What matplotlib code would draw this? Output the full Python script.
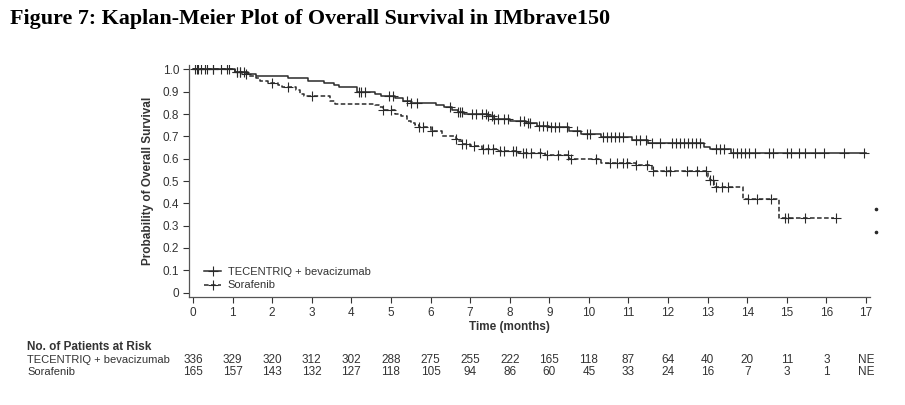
import numpy as np
import matplotlib
matplotlib.use('Agg')
import matplotlib.pyplot as plt
from matplotlib.lines import Line2D

plt.rcParams['font.family'] = ['Liberation Sans', 'DejaVu Sans']

# Kaplan-Meier steps (time in months, survival after the step)
tec_times = [0, 1.05, 1.4, 1.6, 2.4, 2.9, 3.3, 3.55, 3.7, 4.15, 4.6, 4.75, 5.1, 5.3, 5.5,
             6.15, 6.35, 6.55, 6.7, 6.85, 7.45, 7.6, 8.0, 8.4, 8.7, 9.0, 9.5, 9.8, 10.3,
             11.1, 11.5, 12.9, 13.05, 13.6, 17.0]
tec_surv = [1.0, 0.99, 0.98, 0.97, 0.96, 0.95, 0.94, 0.93, 0.92, 0.90, 0.89, 0.88, 0.87, 0.86, 0.85,
            0.84, 0.83, 0.82, 0.81, 0.80, 0.79, 0.78, 0.77, 0.76, 0.745, 0.74, 0.725, 0.712, 0.697,
            0.682, 0.672, 0.652, 0.642, 0.625, 0.625]

sor_times = [0, 1.05, 1.25, 1.4, 1.6, 1.7, 1.9, 2.15, 2.25, 2.6, 2.7, 2.8, 3.45, 3.6, 4.6, 4.7,
             4.8, 5.1, 5.25, 5.4, 5.5, 5.6, 5.7, 6.0, 6.3, 6.65, 6.7, 6.8, 7.0, 7.3, 7.7, 8.2,
             8.9, 9.5, 9.65, 10.3, 11.2, 11.6, 13.0, 13.05, 13.15, 13.9, 14.8, 16.2]
sor_surv = [1.0, 0.99, 0.98, 0.97, 0.96, 0.95, 0.94, 0.93, 0.92, 0.91, 0.89, 0.88, 0.86, 0.846, 0.84, 0.83,
            0.82, 0.80, 0.79, 0.77, 0.76, 0.75, 0.74, 0.725, 0.70, 0.69, 0.68, 0.665, 0.655, 0.645, 0.634, 0.627,
            0.615, 0.600, 0.597, 0.582, 0.570, 0.545, 0.518, 0.503, 0.473, 0.421, 0.336, 0.336]

# censoring times
tec_cens = [0.05, 0.12, 0.2, 0.35, 0.5, 0.7, 0.85, 1.1, 1.2, 1.3, 4.2, 4.25, 4.35, 4.95, 5.05,
            5.4, 5.5, 5.65, 6.5, 6.7, 6.75, 6.8, 7.05, 7.15, 7.3, 7.4, 7.45, 7.55, 7.6, 7.7,
            7.85, 7.95, 8.25, 8.35, 8.45, 8.5, 8.75, 8.85, 8.95, 9.05, 9.15, 9.25, 9.45, 9.7,
            9.95, 10.02, 10.35, 10.45, 10.55, 10.65, 10.75, 10.85, 11.2, 11.3, 11.45, 11.6, 11.8,
            12.1, 12.2, 12.3, 12.4, 12.5, 12.6, 12.7, 12.8, 13.2, 13.3, 13.4, 13.65, 13.75, 13.85,
            13.95, 14.05, 14.2, 14.55, 14.65, 15.0, 15.1, 15.3, 15.45, 15.7, 15.95, 16.45, 16.95]
sor_cens = [0.1, 0.3, 0.5, 0.9, 1.1, 1.2, 1.35, 2.0, 2.4, 3.0, 4.8, 5.0, 5.7, 5.8, 6.05, 6.65,
            6.8, 6.9, 7.1, 7.33, 7.45, 7.58, 7.75, 7.85, 8.09, 8.17, 8.34, 8.42, 8.55, 8.76, 8.93,
            9.22, 9.48, 9.56, 10.19, 10.53, 10.7, 10.87, 10.95, 11.2, 11.46, 11.63, 11.96, 12.05,
            12.47, 12.72, 12.97, 13.06, 13.14, 13.22, 13.35, 13.52, 14.02, 14.24, 14.61, 14.95,
            15.03, 15.45, 16.25]

# stray dots at right edge of the figure
stray_x = [17.26, 17.26]
stray_y = [0.376, 0.27]

months = list(range(18))
tec_risk = ['336', '329', '320', '312', '302', '288', '275', '255', '222', '165', '118', '87',
            '64', '40', '20', '11', '3', 'NE']
sor_risk = ['165', '157', '143', '132', '127', '118', '105', '94', '86', '60', '45', '33',
            '24', '16', '7', '3', '1', 'NE']


def surv_at(times, surv, t):
    idx = np.searchsorted(times, t, side='right') - 1
    return np.array(surv)[idx]


col = '#2a2a2a'
tcol = '#333333'

fig = plt.figure(figsize=(9.05, 4.05), dpi=100)
ax = fig.add_axes([189 / 905, (405 - 297) / 405, 681 / 905, 232 / 405])

ax.step(tec_times, tec_surv, where='post', color=col, lw=1.1, ls='-')
ax.step(sor_times, sor_surv, where='post', color=col, lw=1.1, ls=(0, (3, 1.6)))
ax.plot(tec_cens, surv_at(tec_times, tec_surv, tec_cens), ls='none', marker='+',
        ms=7.5, mew=0.8, color=col)
ax.plot(sor_cens, surv_at(sor_times, sor_surv, sor_cens), ls='none', marker='+',
        ms=7.5, mew=0.8, color=col)
ax.plot(stray_x, stray_y, ls='none', marker='o', ms=1.6, color=col, clip_on=False)

ax.set_xlim(-0.1, 17.1)
ax.set_ylim(-0.02, 1.02)
ax.set_xticks(months)
ax.set_xticklabels([str(m) for m in months])
yt = np.round(np.arange(0, 1.01, 0.1), 1)
ax.set_yticks(yt)
ax.set_yticklabels(['0'] + ['%.1f' % v for v in yt[1:]])
ax.tick_params(axis='both', labelsize=8.5, colors=tcol, length=4, width=0.8, pad=3)
for s in ['top', 'right']:
    ax.spines[s].set_visible(False)
for s in ['left', 'bottom']:
    ax.spines[s].set_color('#555555')
    ax.spines[s].set_linewidth(0.9)

ax.set_ylabel('Probability of Overall Survival', fontsize=8.5, fontweight='bold',
              color=tcol, labelpad=6)
ax.text(8.0, -0.155, 'Time (months)', fontsize=8.5, fontweight='bold', color=tcol,
        ha='center', va='center', transform=ax.transData)

handles = [Line2D([], [], color=col, lw=1.1, ls='-', marker='+', ms=7, mew=0.8),
           Line2D([], [], color=col, lw=1.1, ls=(0, (3, 1.6)), marker='+', ms=7, mew=0.8)]
ax.legend(handles, ['TECENTRIQ + bevacizumab', 'Sorafenib'], loc='lower left',
          bbox_to_anchor=(0.008, -0.015), frameon=False, fontsize=8, handlelength=1.5,
          handletextpad=0.6, labelspacing=0.35, labelcolor=tcol)

fig.text(10 / 905, 1 - 19 / 405, 'Figure 7: Kaplan-Meier Plot of Overall Survival in IMbrave150',
         family=['Liberation Serif', 'DejaVu Serif'], fontsize=15.8, fontweight='bold',
         color='black', va='center', ha='left')

# risk table
fig.text(27 / 905, 1 - 347 / 405, 'No. of Patients at Risk', fontsize=8.5,
         fontweight='bold', color=tcol, va='center')
fig.text(27 / 905, 1 - 360 / 405, 'TECENTRIQ + bevacizumab', fontsize=8, color=tcol, va='center')
fig.text(27 / 905, 1 - 372 / 405, 'Sorafenib', fontsize=8, color=tcol, va='center')
for m, a, b in zip(months, tec_risk, sor_risk):
    xf = ax.transData.transform((m, 0))[0] / fig.bbox.width
    fig.text(xf, 1 - 360 / 405, a, fontsize=8.5, color=tcol, ha='center', va='center')
    fig.text(xf, 1 - 372 / 405, b, fontsize=8.5, color=tcol, ha='center', va='center')

fig.savefig('out.png', dpi=100)
